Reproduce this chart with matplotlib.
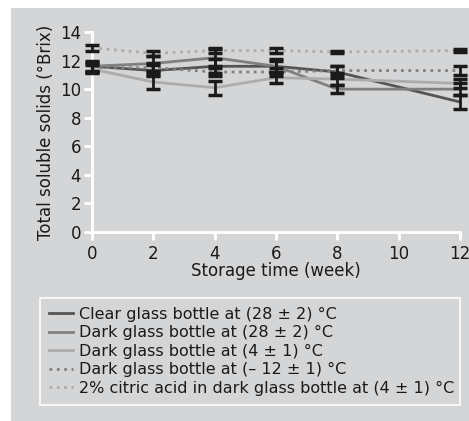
import matplotlib
matplotlib.use("Agg")
import matplotlib.pyplot as plt
from matplotlib.patches import Rectangle

plt.rcParams['font.family'] = ['DejaVu Sans']

# data
weeks = [0, 2, 4, 6, 8, 12]
labels = ["Clear glass bottle at (28 \u00b1 2) \u00b0C",
          "Dark glass bottle at (28 \u00b1 2) \u00b0C",
          "Dark glass bottle at (4 \u00b1 1) \u00b0C",
          "Dark glass bottle at (\u2013 12 \u00b1 1) \u00b0C",
          "2% citric acid in dark glass bottle at (4 \u00b1 1) \u00b0C"]
clear_28 = [11.6, 11.3, 11.6, 11.6, 11.2, 9.1]
dark_28 = [11.6, 11.8, 12.2, 11.6, 10.0, 10.0]
dark_4 = [11.4, 10.5, 10.1, 10.8, 10.7, 10.4]
dark_m12 = [11.5, 11.5, 11.2, 11.2, 11.3, 11.3]
citric_4 = [12.9, 12.5, 12.7, 12.7, 12.6, 12.7]
err_clear_28 = [0.4, 0.4, 0.5, 0.4, 0.4, 0.5]
err_dark_28 = [0.3, 0.5, 0.6, 0.5, 0.3, 0.4]
err_dark_4 = [0.3, 0.5, 0.5, 0.4, 0.4, 0.3]
err_dark_m12 = [0.3, 0.3, 0.3, 0.3, 0.3, 0.3]
err_citric_4 = [0.2, 0.2, 0.2, 0.2, 0.1, 0.1]

series = [clear_28, dark_28, dark_4, dark_m12, citric_4]
errors = [err_clear_28, err_dark_28, err_dark_4, err_dark_m12, err_citric_4]
colors = ["#555555", "#808080", "#acacac", "#808080", "#acacac"]
styles = ["-", "-", "-", ":", ":"]

bg = "#d4d5d7"
txt = "#1a1a1a"
fig = plt.figure(figsize=(4.69, 4.21), dpi=100)
fig.patch.set_facecolor("white")
fig.patches.append(Rectangle((11 / 469, 0), 1, 1 - 8 / 421, transform=fig.transFigure,
                             facecolor=bg, edgecolor="none", zorder=-10))

ax = fig.add_axes([92 / 469, 1 - 232 / 421, (460 - 92) / 469, (232 - 32) / 421])
ax.set_facecolor(bg)

handles = []
for y, e, c, ls in zip(series, errors, colors, styles):
    ax.errorbar(weeks, y, yerr=e, fmt="none", ecolor="#1a1a1a", elinewidth=2,
                capsize=5, capthick=2.5, clip_on=False, zorder=3)
    h, = ax.plot(weeks, y, color=c, linestyle=ls, linewidth=2, clip_on=False, zorder=2)
    handles.append(h)

ax.set_xlim(0, 12)
ax.set_ylim(0, 14)
ax.set_xticks(range(0, 13, 2))
ax.set_yticks(range(0, 15, 2))
for s in ["top", "right"]:
    ax.spines[s].set_visible(False)
for s in ["left", "bottom"]:
    ax.spines[s].set_color("white")
    ax.spines[s].set_linewidth(2)
ax.tick_params(colors="white", width=2, length=6, labelsize=12, labelcolor=txt)
ax.tick_params(axis="y", pad=2)
ax.set_xlabel("Storage time (week)", fontsize=12, color=txt, labelpad=-1)
ax.set_ylabel("Total soluble solids (\u00b0Brix)", fontsize=12, color=txt, labelpad=3)

leg = fig.legend(handles, labels, loc="upper left",
                 bbox_to_anchor=(40 / 469, 16 / 421, 420 / 469, (405 - 298) / 421),
                 mode="expand", fontsize=11.5, frameon=True, fancybox=False, handlelength=1.5,
                 handletextpad=0.4, labelspacing=0.22, borderpad=0.55, borderaxespad=0)
leg.get_frame().set_facecolor(bg)
leg.get_frame().set_edgecolor("white")
leg.get_frame().set_linewidth(1.5)
for t in leg.get_texts():
    t.set_color(txt)

fig.savefig("out.png", dpi=100, facecolor=fig.get_facecolor())
